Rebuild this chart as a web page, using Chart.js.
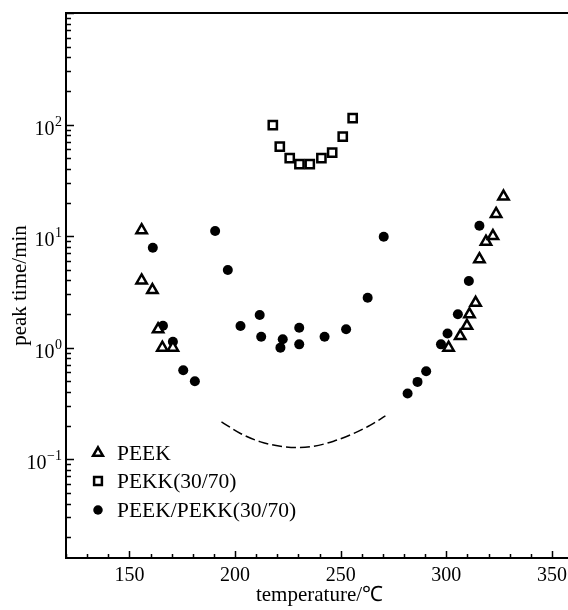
<!DOCTYPE html>
<html><head><meta charset="utf-8">
<script src="https://cdn.jsdelivr.net/npm/chart.js@4/dist/chart.umd.min.js"></script>
<style>
html,body{margin:0;padding:0;background:#fff;overflow:hidden;width:568px;height:610px}
#wrap{position:absolute;left:0;top:0;width:600px;height:610px}
</style>
</head><body><div id="wrap"><canvas id="c" width="600" height="610" style="width:600px;height:610px"></canvas></div>
<script>
// ---- data ----
const peekTemp = [155.8, 155.8, 160.9, 163.6, 165.6, 170.6, 301.1, 306.6, 309.8, 311.0, 313.9, 315.7, 318.8, 322.1, 323.6, 327.1];
const peekTime = [11.3, 4.0, 3.28, 1.46, 1.0, 1.0, 1.0, 1.27, 1.57, 1.99, 2.52, 6.2, 8.9, 10.0, 15.8, 22.6];

const pekkTemp = [217.9, 221.2, 225.9, 230.5, 235.4, 240.9, 246.0, 251.0, 255.7];
const pekkTime = [99, 63.4, 49.9, 44.1, 44.1, 49.9, 56.1, 78, 114];

const blendTemp = [161.1, 165.9, 170.6, 175.5, 181.0, 190.6, 196.6, 202.6, 211.7, 212.4, 221.5, 222.6, 230.4, 230.4, 242.4, 252.6, 262.8, 270.4, 281.7, 286.4, 290.5, 297.5, 300.6, 305.5, 310.7, 315.7];
const blendTime = [7.87, 1.57, 1.13, 0.628, 0.50, 11.1, 4.96, 1.56, 1.96, 1.25, 1.0, 1.19, 1.51, 1.07, 1.25, 1.46, 2.80, 9.88, 0.388, 0.493, 0.615, 1.07, 1.34, 1.99, 3.95, 12.4];

const curveTemp = [193.6, 202.6, 212.1, 221.5, 229.4, 237.3, 246.7, 256.2, 264.1, 271.2];
const curveTime = [0.216, 0.170, 0.143, 0.1305, 0.127, 0.1305, 0.145, 0.170, 0.202, 0.244];

const seriesLabels = ['PEEK', 'PEKK(30/70)', 'PEEK/PEKK(30/70)'];
const xLabelValues = [150, 200, 250, 300, 350];
const yDecadeValues = [0.01, 0.1, 1, 10, 100, 1000];
const yLabelValues = [0.1, 1, 10, 100];
const yLabelBase = '10';
const yLabelExponents = ['\u22121', '0', '1', '2'];
const xTitle = 'temperature/\u2103';
const yTitle = 'peak time/min';

const pts = (xs, ys) => xs.map((v, i) => ({x: v, y: ys[i]}));
const FONT = "'Liberation Serif', 'Times New Roman', serif";

// y tick values: decades plus 2..9 multiples
const yAllTicks = [];
yDecadeValues.forEach(d => { for (let m = 1; m <= 9; m++) yAllTicks.push(+(d * m).toPrecision(3)); });

const tickPlugin = {
  id: 'inwardTicks',
  afterDraw(chart) {
    const {ctx, chartArea: {left, right, top, bottom}, scales: {x, y}} = chart;
    ctx.save();
    ctx.strokeStyle = '#000';
    ctx.lineWidth = 2;
    ctx.beginPath(); ctx.moveTo(left - 1, top); ctx.lineTo(right + 40, top); ctx.stroke();
    ctx.lineWidth = 1.5;
    ctx.beginPath();
    y.ticks.forEach(t => {
      const py = Math.round(y.getPixelForValue(t.value)) + 0.5;
      if (py < top - 0.5 || py > bottom + 0.5) return;
      const len = yDecadeValues.includes(t.value) ? 8 : 5;
      ctx.moveTo(left, py); ctx.lineTo(left + len, py);
    });
    x.ticks.forEach(t => {
      const px = Math.round(x.getPixelForValue(t.value)) + 0.5;
      const len = (t.value % 50 === 0) ? 7 : 4;
      ctx.moveTo(px, bottom); ctx.lineTo(px, bottom - len);
    });
    ctx.stroke();
    // y decade labels with superscript exponents
    ctx.fillStyle = '#000';
    ctx.textAlign = 'right';
    ctx.textBaseline = 'alphabetic';
    yLabelValues.forEach((v, i) => {
      const py = y.getPixelForValue(v);
      const xr = left - 4;
      ctx.font = '14px ' + FONT;
      const ew = ctx.measureText(yLabelExponents[i]).width;
      ctx.fillText(yLabelExponents[i], xr, py + 1);
      ctx.font = '20px ' + FONT;
      ctx.fillText(yLabelBase, xr - ew - 0.5, py + 10);
    });
    ctx.restore();
  }
};

const legendPlugin = {
  id: 'insideLegend',
  afterDraw(chart) {
    const {ctx, chartArea: {left, bottom}} = chart;
    const rows = [105, 77, 48];
    ctx.save();
    ctx.font = '21.5px ' + FONT;
    ctx.textBaseline = 'middle';
    ctx.textAlign = 'left';
    for (let i = 0; i < 3; i++) {
      const ds = chart.data.datasets[i];
      const cx = left + 32, cy = bottom - rows[i];
      ctx.fillStyle = ds.backgroundColor;
      ctx.strokeStyle = ds.borderColor;
      ctx.lineWidth = ds.borderWidth;
      if (Chart.helpers && Chart.helpers.drawPoint) {
        Chart.helpers.drawPoint(ctx, {pointStyle: ds.pointStyle, radius: ds.pointRadius * 0.95, borderWidth: ds.borderWidth, rotation: 0}, cx, cy);
      }
      ctx.fillStyle = '#000';
      ctx.fillText(ds.label, left + 51, cy + 1);
    }
    ctx.restore();
  }
};

new Chart(document.getElementById('c'), {
  type: 'scatter',
  data: {
    datasets: [
      {label: seriesLabels[0], data: pts(peekTemp, peekTime), pointStyle: 'triangle', pointRadius: 6, pointHoverRadius: 6,
       backgroundColor: '#fff', borderColor: '#000', borderWidth: 2.5},
      {label: seriesLabels[1], data: pts(pekkTemp, pekkTime), pointStyle: 'rect', pointRadius: 5.8, pointHoverRadius: 5.8,
       backgroundColor: '#fff', borderColor: '#000', borderWidth: 2.5},
      {label: seriesLabels[2], data: pts(blendTemp, blendTime), pointStyle: 'circle', pointRadius: 5, pointHoverRadius: 5,
       backgroundColor: '#000', borderColor: '#000', borderWidth: 0},
      {type: 'line', label: 'curve', data: pts(curveTemp, curveTime), showLine: true, pointRadius: 0, borderColor: '#000',
       borderWidth: 1.5, borderDash: [10, 4], tension: 0.4, cubicInterpolationMode: 'monotone', fill: false}
    ]
  },
  options: {
    responsive: false,
    animation: false,
    devicePixelRatio: 1,
    layout: {padding: {top: 13, right: 27, left: 0, bottom: 0}},
    plugins: {legend: {display: false}, tooltip: {enabled: false}},
    scales: {
      x: {
        type: 'linear', min: 120, max: 360,
        grid: {display: false, drawTicks: false},
        border: {display: true, color: '#000', width: 2},
        ticks: {stepSize: 10, autoSkip: false, maxRotation: 0, padding: 6, color: '#000',
          font: {family: FONT, size: 20},
          callback: v => xLabelValues.includes(v) ? String(v) : ''},
        title: {display: true, text: xTitle, color: '#000', font: {family: FONT, size: 21}, padding: {top: 0, bottom: 2}},
        afterFit: s => { s.height = 52; }
      },
      y: {
        type: 'logarithmic', min: 0.013, max: 1000,
        grid: {display: false, drawTicks: false},
        border: {display: true, color: '#000', width: 2},
        afterBuildTicks: s => { s.ticks = yAllTicks.filter(v => v >= s.min && v <= s.max).map(v => ({value: v})); },
        ticks: {display: false, autoSkip: false},
        title: {display: true, text: yTitle, color: '#000', font: {family: FONT, size: 21}, padding: {top: 8, bottom: 0}},
        afterFit: s => { s.width = 66; }
      }
    }
  },
  plugins: [tickPlugin, legendPlugin]
});
</script>
</body></html>
